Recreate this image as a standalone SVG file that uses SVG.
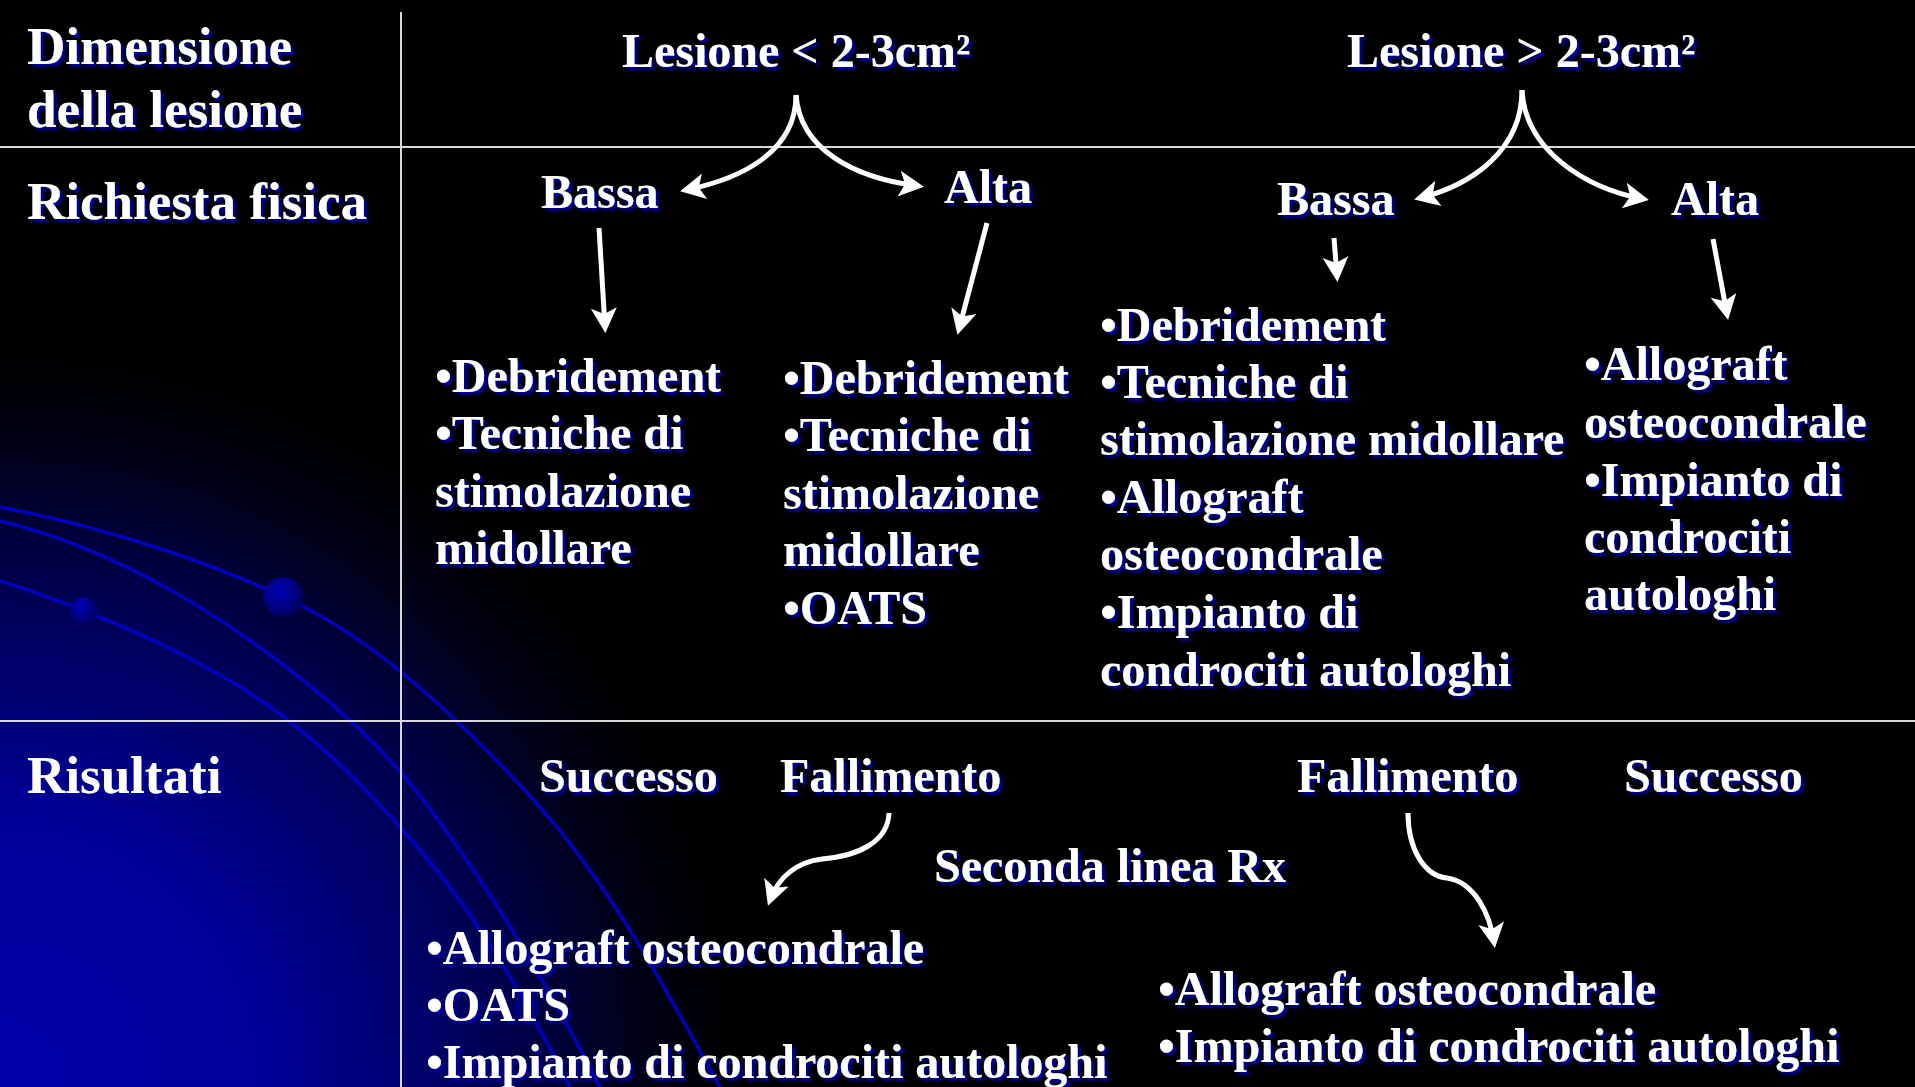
<svg xmlns="http://www.w3.org/2000/svg" width="1915" height="1087" viewBox="0 0 1915 1087">
<defs>
<radialGradient id="bg" cx="0" cy="1087" r="740" gradientUnits="userSpaceOnUse">
<stop offset="0" stop-color="#0000aa"/>
<stop offset="0.35" stop-color="#00009a"/>
<stop offset="0.65" stop-color="#000058"/>
<stop offset="0.88" stop-color="#000014"/>
<stop offset="1" stop-color="#000000"/>
</radialGradient>
<radialGradient id="ball" cx="0.4" cy="0.35" r="0.7">
<stop offset="0" stop-color="#0000b8"/>
<stop offset="1" stop-color="#00005a"/>
</radialGradient>
<filter id="sh" x="-5%" y="-30%" width="115%" height="160%">
<feOffset in="SourceAlpha" dx="3" dy="3" result="o"/>
<feGaussianBlur in="o" stdDeviation="0.8" result="b"/>
<feFlood flood-color="#0000a0"/>
<feComposite in2="b" operator="in"/>
<feMerge><feMergeNode/><feMergeNode in="SourceGraphic"/></feMerge>
</filter>
<marker id="ah" viewBox="-26 -14 27 28" refX="-6" refY="0" markerWidth="27" markerHeight="28" markerUnits="userSpaceOnUse" orient="auto">
<path d="M0,0 L-25,-13 L-19,0 L-25,13 Z" fill="#fff"/>
</marker>
</defs>
<style>
.t{font-family:"Liberation Serif","Times New Roman",serif;font-weight:bold;fill:#fff;font-size:48px;filter:url(#sh)}
.lab{font-size:53px}
.grid{stroke:#d8d8d8;stroke-width:2;fill:none}
.deco{stroke:#0000c0;stroke-width:3.5;fill:none}
.arr{stroke:#fff;stroke-width:5;fill:none;marker-end:url(#ah)}
</style>
<rect x="0" y="0" width="1915" height="1087" fill="#000"/>
<rect x="0" y="0" width="1915" height="1087" fill="url(#bg)"/>
<g id="decoration">
<path class="deco" d="M0,507 C120,530 230,570 300,605 S440,700 520,785 S650,960 720,1087"/>
<path class="deco" d="M0,521 C100,545 200,600 290,670 S420,790 480,880 S570,1030 600,1087"/>
<path class="deco" d="M0,581 C60,600 140,630 220,675 S360,780 420,850 S520,990 570,1087"/>
<circle cx="283" cy="597" r="20" fill="url(#ball)"/>
<circle cx="84" cy="611" r="14" fill="url(#ball)"/>
<circle cx="527" cy="1010" r="14" fill="url(#ball)" opacity="0.7"/>
</g>
<g id="grid">
<line class="grid" x1="401" y1="12" x2="401" y2="1087"/>
<line class="grid" x1="0" y1="147" x2="1915" y2="147"/>
<line class="grid" x1="0" y1="721" x2="1915" y2="721"/>
</g>
<g id="row-labels">
<text class="t lab" x="27" y="64">Dimensione</text>
<text class="t lab" x="27" y="127">della lesione</text>
<text class="t lab" x="27" y="219">Richiesta fisica</text>
<text class="t lab" x="27" y="793">Risultati</text>
</g>
<g id="lesione-small"><text class="t" x="622" y="67">Lesione &lt; 2-3cm²</text></g>
<g id="lesione-large"><text class="t" x="1347" y="67">Lesione &gt; 2-3cm²</text></g>
<g id="bassa-1"><text class="t" x="541" y="208">Bassa</text></g>
<g id="alta-1"><text class="t" x="944" y="203">Alta</text></g>
<g id="bassa-2"><text class="t" x="1277" y="215">Bassa</text></g>
<g id="alta-2"><text class="t" x="1671" y="215">Alta</text></g>
<g id="list-1">
<text class="t" x="435" y="392">•Debridement</text>
<text class="t" x="435" y="449">•Tecniche di</text>
<text class="t" x="435" y="507">stimolazione</text>
<text class="t" x="435" y="564">midollare</text>
</g>
<g id="list-2">
<text class="t" x="783" y="394">•Debridement</text>
<text class="t" x="783" y="451">•Tecniche di</text>
<text class="t" x="783" y="509">stimolazione</text>
<text class="t" x="783" y="566">midollare</text>
<text class="t" x="783" y="624">•OATS</text>
</g>
<g id="list-3">
<text class="t" x="1100" y="341">•Debridement</text>
<text class="t" x="1100" y="398">•Tecniche di</text>
<text class="t" x="1100" y="455">stimolazione midollare</text>
<text class="t" x="1100" y="513">•Allograft</text>
<text class="t" x="1100" y="570">osteocondrale</text>
<text class="t" x="1100" y="628">•Impianto di</text>
<text class="t" x="1100" y="686">condrociti autologhi</text>
</g>
<g id="list-4">
<text class="t" x="1584" y="380">•Allograft</text>
<text class="t" x="1584" y="438">osteocondrale</text>
<text class="t" x="1584" y="496">•Impianto di</text>
<text class="t" x="1584" y="553">condrociti</text>
<text class="t" x="1584" y="610">autologhi</text>
</g>
<g id="successo-1"><text class="t" x="539" y="792">Successo</text></g>
<g id="fallimento-1"><text class="t" x="780" y="792">Fallimento</text></g>
<g id="fallimento-2"><text class="t" x="1297" y="792">Fallimento</text></g>
<g id="successo-2"><text class="t" x="1624" y="792">Successo</text></g>
<g id="seconda-linea"><text class="t" x="934" y="882">Seconda linea Rx</text></g>
<g id="list-5">
<text class="t" x="426" y="964">•Allograft osteocondrale</text>
<text class="t" x="426" y="1021">•OATS</text>
<text class="t" x="426" y="1078">•Impianto di condrociti autologhi</text>
</g>
<g id="list-6">
<text class="t" x="1158" y="1005">•Allograft osteocondrale</text>
<text class="t" x="1158" y="1062">•Impianto di condrociti autologhi</text>
</g>
<g id="connectors">
<path class="arr" d="M796,95 C796,150 745,178 686,190"/>
<path class="arr" d="M796,95 C800,150 855,178 918,186"/>
<path class="arr" d="M1522,90 C1522,150 1472,185 1420,198"/>
<path class="arr" d="M1522,90 C1525,150 1585,188 1643,199"/>
<path class="arr" d="M599,228 L605,327"/>
<path class="arr" d="M987,223 L959,329"/>
<path class="arr" d="M1334,238 L1337,276"/>
<path class="arr" d="M1713,239 L1727,314"/>
<path class="arr" d="M889,813 C888,842 858,856 822,859 C796,862 778,878 770,900"/>
<path class="arr" d="M1408,813 C1408,850 1425,876 1447,878 C1475,882 1490,915 1494,942"/>
</g>
</svg>
